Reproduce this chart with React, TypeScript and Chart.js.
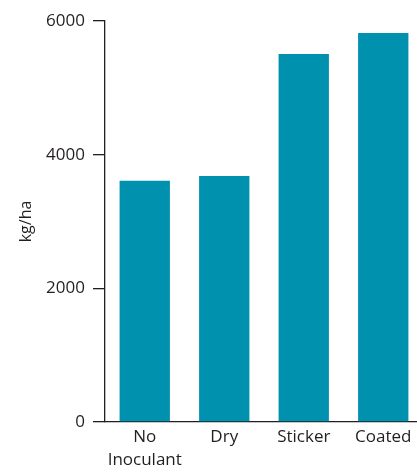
import React, { useEffect, useRef } from "react";
import { Chart, registerables } from "chart.js";

Chart.register(...registerables);

const categories: (string | string[])[] = ["No|Inoculant", "Dry", "Sticker", "Coated"].map((s) =>
  s.includes("|") ? s.split("|") : s
);
const yieldValues = [3610, 3680, 5505, 5820];
const yTicks = [0, 2000, 4000, 6000];

const TEXT = "#231f20";
const BAR = "#0091ae";
const FONT = "'Open Sans', 'Noto Sans', sans-serif";

export default function App() {
  const ref = useRef<HTMLCanvasElement | null>(null);
  useEffect(() => {
    if (!ref.current) return;
    const chart = new Chart(ref.current, {
      type: "bar",
      data: {
        labels: categories,
        datasets: [
          {
            data: yieldValues,
            backgroundColor: BAR,
            borderWidth: 0,
            categoryPercentage: 1,
            barPercentage: 0.633,
          },
        ],
      },
      options: {
        animation: false,
        responsive: false,
        maintainAspectRatio: false,
        layout: { padding: { top: 21, left: 0, right: 0, bottom: 0 } },
        plugins: { legend: { display: false }, tooltip: { enabled: false } },
        scales: {
          x: {
            grid: { display: false, drawTicks: false },
            border: { display: true, color: TEXT, width: 1.3 },
            ticks: {
              color: TEXT,
              font: { family: FONT, size: 17, lineHeight: 1.35 },
              padding: 4,
              maxRotation: 0,
              autoSkip: false,
            },
            afterFit: (s: any) => {
              s.height = 51;
            },
          },
          y: {
            min: 0,
            max: 6000,
            afterBuildTicks: (s: any) => {
              s.ticks = yTicks.map((v) => ({ value: v }));
            },
            grid: {
              drawOnChartArea: false,
              drawTicks: true,
              tickLength: 12,
              color: TEXT,
              lineWidth: 1.3,
            },
            border: { display: true, color: TEXT, width: 1.3 },
            ticks: {
              color: TEXT,
              font: { family: FONT, size: 17 },
              padding: 8,
              callback: (v: any) => String(v),
            },
            title: {
              display: true,
              text: "kg/ha",
              color: TEXT,
              font: { family: FONT, size: 16 },
              padding: { top: 17, bottom: 0 },
            },
            afterFit: (s: any) => {
              s.width = 105;
            },
          },
        },
      },
    });
    return () => chart.destroy();
  }, []);
  return (
    <div
      style={{
        position: "absolute",
        left: 0,
        top: 0,
        width: 417,
        height: 473,
        overflow: "hidden",
        background: "#fff",
      }}
    >
      <canvas ref={ref} width={423} height={473} style={{ display: "block" }} />
    </div>
  );
}
